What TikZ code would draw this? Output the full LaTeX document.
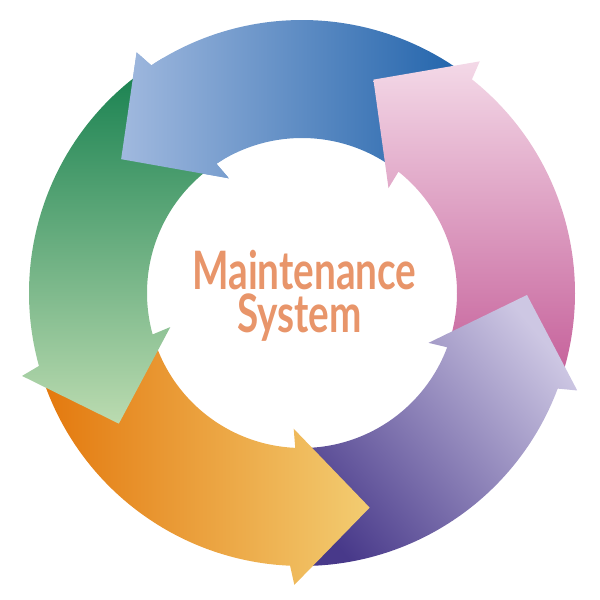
\documentclass[tikz,border=0pt]{standalone}
\usepackage{fontspec}
\newfontfamily\titlefont{Lato}

\definecolor{blueL}{HTML}{A2BADF}
\definecolor{blueD}{HTML}{1C60A9}
\definecolor{pinkL}{HTML}{F4DAE8}
\definecolor{pinkD}{HTML}{C35A96}
\definecolor{purpL}{HTML}{CDC7E3}
\definecolor{purpD}{HTML}{48398A}
\definecolor{orngL}{HTML}{F3CD72}
\definecolor{orngD}{HTML}{E3770C}
\definecolor{grnL}{HTML}{BDDCB1}
\definecolor{grnD}{HTML}{16804F}
\definecolor{titlec}{HTML}{E8956A}

% ring segment from tail angle #1 to head base #2, head tip 20 deg further
\newcommand{\ringarrow}[2]{(#1:155pt) -- (#1:273pt)
  arc[start angle=#1, end angle=#2, radius=273pt]
  -- (#2+1:292pt) -- (#2+20:225pt) -- (#2-1:136pt) -- (#2:155pt)
  arc[start angle=#2, end angle=#1, radius=155pt] -- cycle}
% the head alone, cut a little way back into its own body
\newcommand{\ringhead}[1]{(#1-3:155pt) -- (#1-3:273pt)
  arc[start angle=#1-3, end angle=#1, radius=273pt]
  -- (#1+1:292pt) -- (#1+20:225pt) -- (#1-1:136pt) -- (#1:155pt)
  arc[start angle=#1, end angle=#1-3, radius=155pt] -- cycle}

\tikzset{
  title/.style={anchor=base, text=titlec, inner sep=0pt,
    font=\titlefont\bfseries\fontsize{53}{53}\selectfont}
}

\begin{document}
\begin{tikzpicture}[x=1pt,y=1pt]
\useasboundingbox (-302pt,-307pt) rectangle (298pt,293pt);

% blue (top)
\begin{scope}
  \clip \ringarrow{51.5}{123.5};
  \shade[left color=blueL, right color=blueD] (-185pt,0pt) rectangle (175pt,300pt);
\end{scope}
% pink (right)
\begin{scope}
  \clip \ringarrow{339.5}{411.5};
  \shade[top color=pinkL, bottom color=pinkD] (60pt,-100pt) rectangle (300pt,235pt);
\end{scope}
% purple (lower right)
\begin{scope}
  \clip \ringarrow{267.5}{339.5};
  \shade[top color=purpL, bottom color=purpD, shading angle=-50] (-20pt,-280pt) rectangle (280pt,0pt);
\end{scope}
% orange (bottom)
\begin{scope}
  \clip \ringarrow{195.5}{267.5};
  \shade[left color=orngD, right color=orngL] (-265pt,-300pt) rectangle (70pt,0pt);
\end{scope}
% green (left)
\begin{scope}
  \clip \ringarrow{123.5}{195.5};
  \shade[top color=grnD, bottom color=grnL] (-300pt,-135pt) rectangle (0pt,230pt);
\end{scope}
% blue head again, over the green tail
\begin{scope}
  \clip \ringhead{123.5};
  \shade[left color=blueL, right color=blueD] (-185pt,0pt) rectangle (175pt,300pt);
\end{scope}

\node[title] (maint) at (2.5pt,4pt) {\scalebox{0.73}[1]{Maintenance}};
\node[title] (sys) at (-2.5pt,-39pt) {\scalebox{0.73}[1]{System}};
\end{tikzpicture}
\end{document}
